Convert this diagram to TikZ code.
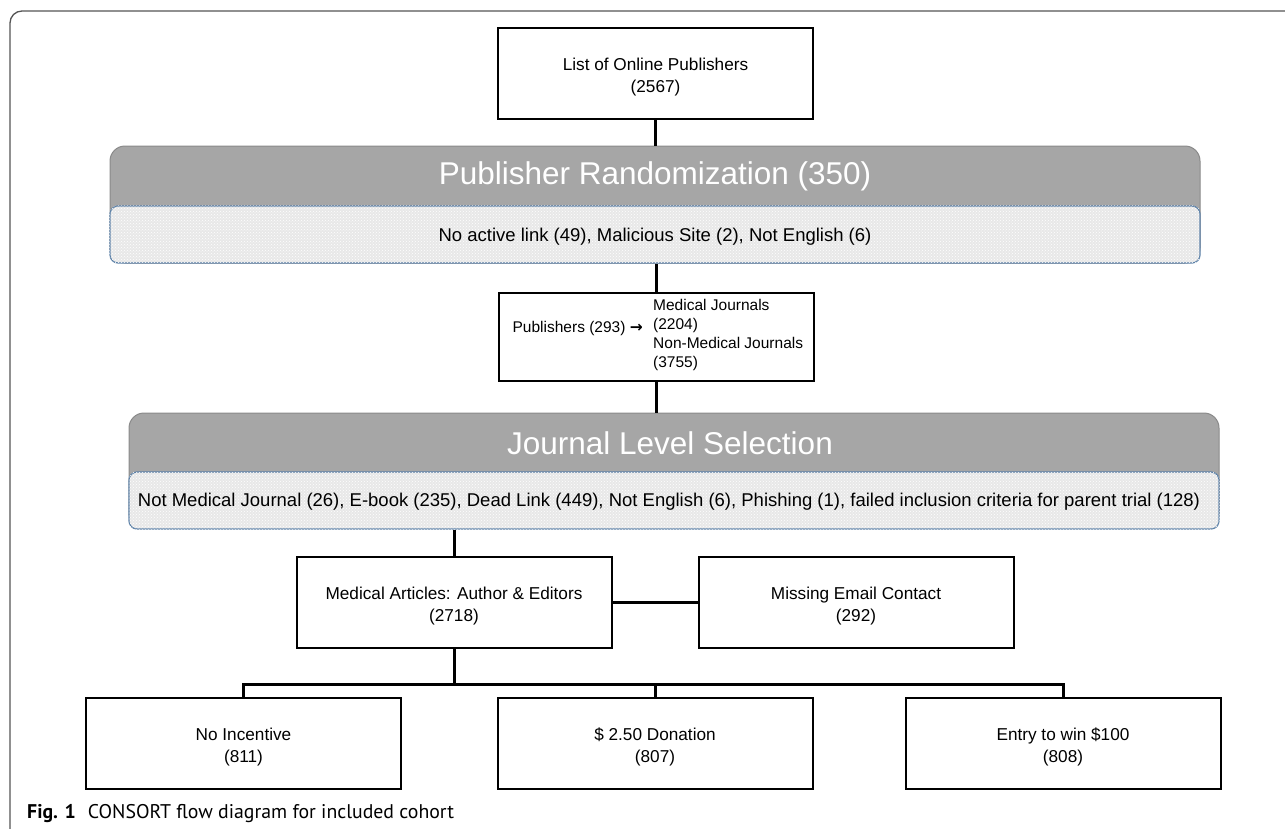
\documentclass[tikz,border=0pt]{standalone}
\usepackage{fontspec}
\setmainfont{Liberation Sans}
\newfontfamily\capfont{PT Sans}
\newfontfamily\arrfont{DejaVu Sans}
\usetikzlibrary{patterns}
\definecolor{hdrgray}{HTML}{A6A6A6}
\definecolor{hdrline}{HTML}{8A8A8A}
\definecolor{subfill}{HTML}{E8E8E8}
\definecolor{subline}{HTML}{5A7FA6}
\definecolor{framecol}{HTML}{555555}
\tikzset{
  flowbox/.style={draw=black, line width=2pt, fill=white, minimum width=315pt, minimum height=91pt, align=center, inner sep=0pt, font=\fontsize{17.2}{22}\selectfont},
  conn/.style={line width=3pt, draw=black},
  hdrbox/.style={draw=hdrline, line width=1pt, fill=hdrgray, rounded corners=15pt, minimum width=1090pt, inner sep=0pt},
  subbox/.style={draw=subline, line width=1.2pt, fill=subfill, rounded corners=8pt, minimum width=1090pt, minimum height=57pt, inner sep=0pt},
  hdrtext/.style={text=white, font=\fontsize{31.5}{36}\selectfont, inner sep=0pt},
  subtext/.style={font=\fontsize{18.5}{22}\selectfont, inner sep=0pt},
  plaintext/.style={inner sep=0pt, font=\fontsize{15.5}{19}\selectfont},
}
\begin{document}
\begin{tikzpicture}[x=1pt, y=-1pt]
\useasboundingbox (0,0) rectangle (1285,828);
% outer frame
\draw[framecol, line width=1.3pt, rounded corners=12pt] (10,840) -- (10,11) -- (1300,11);

% top box
\node[flowbox] (top) at (655.5,73) {\rule{0pt}{20pt}List of Online Publishers\\(2567)};

% banner 1
\node[hdrbox, minimum height=117pt] (b1) at (655,204.5) {};
\node[subbox] (b1sub) at (655,234.5) {};
\path[pattern=crosshatch dots, pattern color=white, rounded corners=8pt] (b1sub.south west) rectangle (b1sub.north east);
\node[hdrtext] (b1title) at (655,176) {Publisher Randomization (350)};
\node[subtext] (b1text) at (655,237) {No active link (49), Malicious Site (2), Not English (6)};

% middle box
\node[flowbox, minimum height=88pt] (mid) at (656,337) {};
\node[plaintext, anchor=east] (midL) at (643,328) {Publishers (293) {\arrfont\bfseries →}};
\node[plaintext, anchor=west, align=left, font=\fontsize{15.5}{19}\selectfont] (midR) at (653,335) {Medical Journals\\(2204)\\Non-Medical Journals\\(3755)};

% banner 2
\node[hdrbox, minimum height=115pt] (b2) at (674,470.5) {};
\node[subbox] (b2sub) at (674,500.5) {};
\path[pattern=crosshatch dots, pattern color=white, rounded corners=8pt] (b2sub.south west) rectangle (b2sub.north east);
\node[hdrtext] (b2title) at (670,443) {Journal Level Selection};
\node[subtext] (b2text) at (669,502) {Not Medical Journal (26), E-book (235), Dead Link (449), Not English (6), Phishing (1), failed inclusion criteria for parent trial (128)};

% lower boxes
\node[flowbox] (med) at (454,602.5) {\rule{0pt}{20pt}Medical Articles: Author \& Editors\\(2718)};
\node[flowbox] (miss) at (856,602.5) {\rule{0pt}{20pt}Missing Email Contact\\(292)};
\node[flowbox] (noinc) at (243.5,743) {\rule{0pt}{20pt}No Incentive\\(811)};
\node[flowbox] (don) at (655,743) {\rule{0pt}{20pt}\$ 2.50 Donation\\(807)};
\node[flowbox] (entry) at (1063,743) {\rule{0pt}{20pt}Entry to win \$100\\(808)};

\coordinate (bus) at (0,684);

% connectors
\draw[conn] (top.south) -- (top.south |- b1.north);
\draw[conn] (mid.north |- b1sub.south) -- (mid.north);
\draw[conn] (mid.south) -- (mid.south |- b2.north);
\draw[conn] (med.north |- b2sub.south) -- (med.north);
\draw[conn] (med.east) -- (miss.west);
\draw[conn] (med.south) -- (med.south |- bus);
\draw[conn] (noinc.north) -- (noinc.north |- bus) -- (entry.north |- bus) -- (entry.north);
\draw[conn] (don.north |- bus) -- (don.north);

% caption
\node[anchor=base west, inner sep=0pt, font=\capfont\fontsize{19.8}{23}\selectfont] (cap) at (27,818) {\textbf{Fig. 1}\hspace{0.6em}CONSORT flow diagram for included cohort};
\end{tikzpicture}
\end{document}
